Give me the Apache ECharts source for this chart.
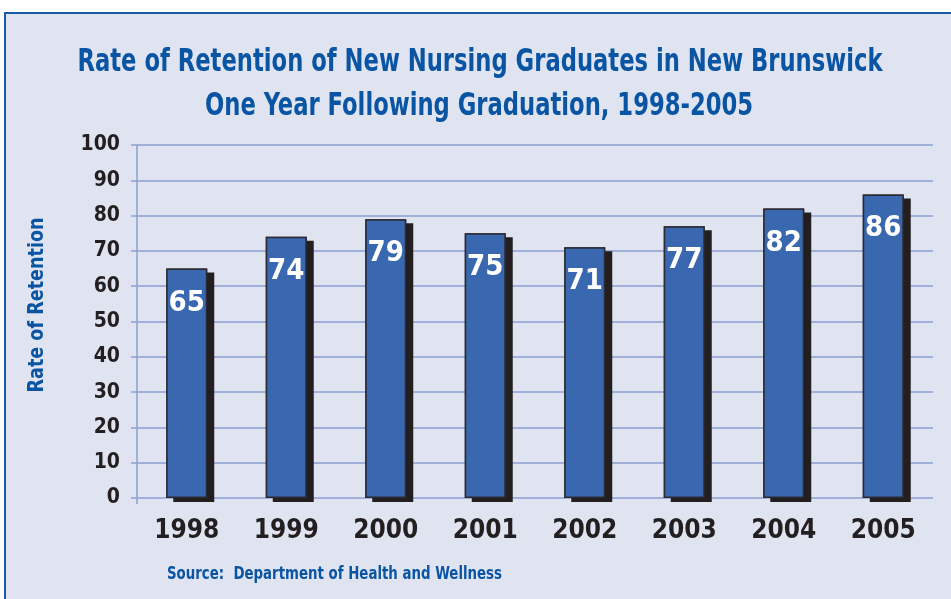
<!DOCTYPE html>
<html><head><meta charset="utf-8">
<script src="https://cdn.jsdelivr.net/npm/echarts@6/dist/echarts.min.js"></script>
<style>html,body{margin:0;padding:0;background:#fff;}#c{width:951px;height:599px;}</style>
</head><body><div id="c"></div>
<script>
const categories = ['1998','1999','2000','2001','2002','2003','2004','2005'];
const values = [65,74,79,75,71,77,82,86];
const yTicks = [0,10,20,30,40,50,60,70,80,90,100];
const titleLines = ['Rate of Retention of New Nursing Graduates in New Brunswick','One Year Following Graduation, 1998-2005'];
const yName = 'Rate of Retention';
const sourceText = 'Source:  Department of Health and Wellness';

const FONT = '"DejaVu Sans Condensed", "Liberation Sans Narrow", sans-serif';
const BLUE = '#0a55a3';
const DARK = '#231f20';

function textWidth(text, size){
  const ctx = document.createElement('canvas').getContext('2d');
  ctx.font = 'bold ' + size + 'px ' + FONT;
  return ctx.measureText(text).width;
}
function squeezedText(text, size, cx, cy, targetW, color, align, rot){
  const w = textWidth(text, size);
  const s = Math.min(1, targetW / w);
  return {type:'text', x:cx, y:cy, scaleX:s, scaleY:1, rotation:rot||0,
    style:{text:text, fill:color, font:'bold ' + size + 'px ' + FONT,
      textAlign:align, textVerticalAlign:'middle'}};
}

const chart = echarts.init(document.getElementById('c'), null, {renderer:'canvas'});
chart.setOption({
  animation:false,
  backgroundColor:'#ffffff',
  graphic:[
    {type:'rect', z:-10, shape:{x:5,y:13,width:960,height:600}, style:{fill:'#e0e4f1', stroke:'#1a5aa6', lineWidth:2}},
    {type:'line', z:1, shape:{x1:137,y1:145,x2:137,y2:504}, style:{stroke:'#8d9fd2', lineWidth:1.5}},
    squeezedText(titleLines[0], 32, 480, 63, 805, BLUE, 'center'),
    squeezedText(titleLines[1], 32, 479, 107, 548, BLUE, 'center'),
    squeezedText(sourceText, 17, 167, 575, 335, BLUE, 'left'),
    squeezedText(yName, 21, 38, 305, 175, BLUE, 'center', Math.PI/2)
  ],
  grid:{left:137, right:18, top:145, bottom:101, containLabel:false},
  xAxis:{type:'category', data:categories,
    axisLine:{show:false}, axisTick:{show:false},
    axisLabel:{margin:20, fontFamily:FONT, fontWeight:'bold', fontSize:26, color:DARK}},
  yAxis:{type:'value', min:0, max:100, interval:10,
    axisLine:{show:false},
    axisTick:{show:true, length:6, lineStyle:{color:'#8d9fd2', width:1.5}},
    splitLine:{lineStyle:{color:'#8d9fd2', width:1.5}},
    axisLabel:{margin:17, fontFamily:FONT, fontWeight:'bold', fontSize:21, color:DARK,
      formatter:v=>yTicks.includes(v)?String(v):''}},
  series:[
    {type:'bar', data:values, barWidth:41, barGap:'-100%', silent:true,
      itemStyle:{color:DARK, shadowColor:DARK, shadowOffsetX:7, shadowOffsetY:4, shadowBlur:0}},
    {type:'bar', data:values, barWidth:41, barGap:'-100%',
      itemStyle:{color:'#3a68b0', borderColor:'#2b2b33', borderWidth:1.5},
      label:{show:true, position:'insideTop', distance:20, color:'#ffffff',
        fontFamily:FONT, fontWeight:'bold', fontSize:29}}
  ]
});
</script></body></html>
